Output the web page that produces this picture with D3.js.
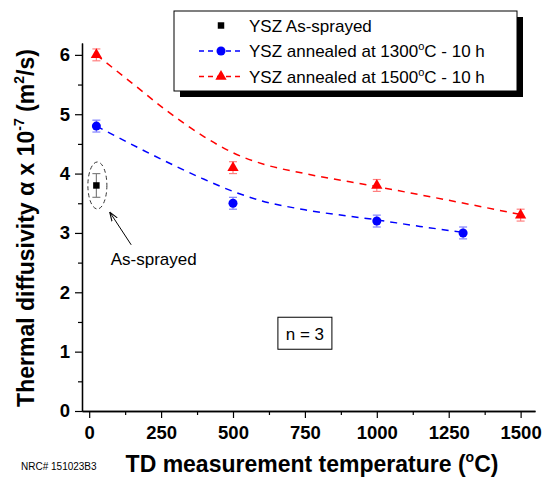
<!DOCTYPE html>
<html>
<head>
<meta charset="utf-8">
<script src="https://cdn.jsdelivr.net/npm/d3@7"></script>
<style>
  body { margin: 0; background: #fff; }
  text { font-family: "Liberation Sans", Arial, sans-serif; }
</style>
</head>
<body>
<div id="vis"></div>
<script>
const TEMP_SPRAYED = [25];
const TD_SPRAYED = [3.8];
const ERR_SPRAYED = [0.2];

const TEMP_1300 = [25, 500, 1000, 1300];
const TD_1300 = [4.8, 3.5, 3.2, 3.0];
const ERR_1300 = [0.1, 0.1, 0.1, 0.1];

const TEMP_1500 = [25, 500, 1000, 1500];
const TD_1500 = [6.0, 4.1, 3.8, 3.3];
const ERR_1500 = [0.1, 0.1, 0.1, 0.1];

// dashed fit curves
const FIT_X_1300 = [25, 218, 392, 500, 600, 750, 1000, 1150, 1300];
const FIT_Y_1300 = [4.8, 4.32, 3.92, 3.7, 3.54, 3.39, 3.22, 3.11, 3.01];
const FIT_X_1500 = [25, 150, 264, 400, 500, 612, 750, 1000, 1250, 1500];
const FIT_Y_1500 = [6.0, 5.52, 5.08, 4.62, 4.35, 4.15, 4.0, 3.78, 3.55, 3.31];

// axis ticks
const X_TICKS = [0, 250, 500, 750, 1000, 1250, 1500];
const X_MINOR = [125, 375, 625, 875, 1125, 1375];
const Y_TICKS = [0, 1, 2, 3, 4, 5, 6];
const Y_MINOR = [0.5, 1.5, 2.5, 3.5, 4.5, 5.5];

// frame
const FRAME_WIDTH = 543;
const FRAME_HEIGHT = 479;
const MARGINS = {left: 82, right: 8, top: 43, bottom: 68};
const VIS_WIDTH = FRAME_WIDTH - MARGINS.left - MARGINS.right;
const VIS_HEIGHT = FRAME_HEIGHT - MARGINS.top - MARGINS.bottom;

const FRAME = d3.select("#vis")
                .append("svg")
                  .attr("width", FRAME_WIDTH)
                  .attr("height", FRAME_HEIGHT);

const X_SCALE = d3.scaleLinear().domain([-25, 1550]).range([0, VIS_WIDTH]);
const Y_SCALE = d3.scaleLinear().domain([0, 6.2]).range([VIS_HEIGHT, 0]);

const PLOT = FRAME.append("g")
                  .attr("transform", "translate(" + MARGINS.left + "," + MARGINS.top + ")");

// axes: major ticks with labels, minor ticks without
function styleAxis(g) {
  g.select(".domain").attr("stroke", "#000").attr("stroke-width", 1.3);
  g.selectAll(".tick line").attr("stroke", "#000").attr("stroke-width", 1.2);
  g.selectAll("text").attr("font-size", "18.5px").attr("font-weight", "bold")
    .attr("fill", "#000").attr("font-family", "Liberation Sans, Arial, sans-serif");
}

PLOT.append("g")
    .attr("transform", "translate(0," + VIS_HEIGHT + ")")
    .call(d3.axisBottom(X_SCALE).tickValues(X_MINOR).tickSize(4).tickFormat("").tickSizeOuter(0))
    .call(styleAxis);
PLOT.append("g")
    .attr("transform", "translate(0," + VIS_HEIGHT + ")")
    .call(d3.axisBottom(X_SCALE).tickValues(X_TICKS).tickSize(7).tickPadding(8)
            .tickFormat(d3.format("d")).tickSizeOuter(0))
    .call(styleAxis);

PLOT.append("g")
    .call(d3.axisLeft(Y_SCALE).tickValues(Y_MINOR).tickSize(4).tickFormat("").tickSizeOuter(0))
    .call(styleAxis);
PLOT.append("g")
    .call(d3.axisLeft(Y_SCALE).tickValues(Y_TICKS).tickSize(7).tickPadding(5)
            .tickFormat(d3.format("d")).tickSizeOuter(0))
    .call(styleAxis);

// fitted dashed curves
const line = d3.line()
               .x((d) => X_SCALE(d[0]))
               .y((d) => Y_SCALE(d[1]))
               .curve(d3.curveMonotoneX);

PLOT.append("path")
    .datum(FIT_X_1300.map((x, i) => [x, FIT_Y_1300[i]]))
    .attr("d", line)
    .attr("fill", "none")
    .attr("stroke", "#0000ff")
    .attr("stroke-width", 1.5)
    .attr("stroke-dasharray", "7,6");

PLOT.append("path")
    .datum(FIT_X_1500.map((x, i) => [x, FIT_Y_1500[i]]))
    .attr("d", line)
    .attr("fill", "none")
    .attr("stroke", "#ff0000")
    .attr("stroke-width", 1.5)
    .attr("stroke-dasharray", "7,6");

// error bars + markers
function drawSeries(xs, ys, errs, barColor, symbol, size, color) {
  const data = xs.map((x, i) => ({x: x, y: ys[i], e: errs[i]}));
  const g = PLOT.append("g");
  const bars = g.selectAll("g.err").data(data).enter().append("g").attr("class", "err")
                .attr("stroke", barColor).attr("stroke-width", 1.2);
  bars.append("line")
      .attr("x1", (d) => X_SCALE(d.x)).attr("x2", (d) => X_SCALE(d.x))
      .attr("y1", (d) => Y_SCALE(d.y - d.e)).attr("y2", (d) => Y_SCALE(d.y + d.e));
  bars.append("line")
      .attr("x1", (d) => X_SCALE(d.x) - 4).attr("x2", (d) => X_SCALE(d.x) + 4)
      .attr("y1", (d) => Y_SCALE(d.y - d.e)).attr("y2", (d) => Y_SCALE(d.y - d.e));
  bars.append("line")
      .attr("x1", (d) => X_SCALE(d.x) - 4).attr("x2", (d) => X_SCALE(d.x) + 4)
      .attr("y1", (d) => Y_SCALE(d.y + d.e)).attr("y2", (d) => Y_SCALE(d.y + d.e));
  g.selectAll("path.mark").data(data).enter().append("path").attr("class", "mark")
   .attr("d", d3.symbol().type(symbol).size(size))
   .attr("transform", (d) => "translate(" + X_SCALE(d.x) + "," + Y_SCALE(d.y) + ")")
   .attr("fill", color);
}

drawSeries(TEMP_SPRAYED, TD_SPRAYED, ERR_SPRAYED, "#808080", d3.symbolSquare, 42, "#000");
drawSeries(TEMP_1300, TD_1300, ERR_1300, "#8080ff", d3.symbolCircle, 64, "#0000ff");
drawSeries(TEMP_1500, TD_1500, ERR_1500, "#ff8080", d3.symbolTriangle, 55, "#ff0000");

// as-sprayed annotation
PLOT.append("ellipse")
    .attr("cx", X_SCALE(TEMP_SPRAYED[0]) + 1)
    .attr("cy", Y_SCALE(TD_SPRAYED[0]))
    .attr("rx", 9.5).attr("ry", 23.5)
    .attr("fill", "none").attr("stroke", "#333")
    .attr("stroke-width", 1).attr("stroke-dasharray", "4,3");

FRAME.append("defs").append("marker")
     .attr("id", "arrow").attr("viewBox", "0 0 10 10")
     .attr("refX", 9).attr("refY", 5)
     .attr("markerWidth", 9).attr("markerHeight", 9)
     .attr("orient", "auto")
     .append("path").attr("d", "M0,1.5 L10,5 L0,8.5").attr("fill", "none")
     .attr("stroke", "#000").attr("stroke-width", 1.2);

PLOT.append("line")
    .attr("x1", X_SCALE(146)).attr("y1", Y_SCALE(2.8))
    .attr("x2", X_SCALE(73)).attr("y2", Y_SCALE(3.34))
    .attr("stroke", "#000").attr("stroke-width", 1)
    .attr("marker-end", "url(#arrow)");

PLOT.append("text")
    .attr("x", X_SCALE(75)).attr("y", Y_SCALE(2.46))
    .attr("font-size", "17px").text("As-sprayed");

// n = 3 box
PLOT.append("rect")
    .attr("x", X_SCALE(750) - 27).attr("y", Y_SCALE(1.31) - 16)
    .attr("width", 54).attr("height", 32)
    .attr("fill", "#fff").attr("stroke", "#000").attr("stroke-width", 1);
PLOT.append("text")
    .attr("x", X_SCALE(750)).attr("y", Y_SCALE(1.19))
    .attr("text-anchor", "middle").attr("font-size", "17px").text("n = 3");

// legend with drop shadow
const LEG = FRAME.append("g").attr("transform", "translate(174,11)");
LEG.append("rect").attr("x", 6).attr("y", 6).attr("width", 343).attr("height", 80).attr("fill", "#000");
LEG.append("rect").attr("x", 0).attr("y", 0).attr("width", 343).attr("height", 80)
   .attr("fill", "#fff").attr("stroke", "#000").attr("stroke-width", 1);

const LEG_ROWS = [
  {label: "YSZ As-sprayed", sym: d3.symbolSquare, size: 42, color: "#000", dashed: false},
  {label: "YSZ annealed at 1300", sym: d3.symbolCircle, size: 64, color: "#0000ff", dashed: true},
  {label: "YSZ annealed at 1500", sym: d3.symbolTriangle, size: 55, color: "#ff0000", dashed: true}
];

LEG_ROWS.forEach((r, i) => {
  const ry = 14.5 + i * 25.5;
  if (r.dashed) {
    LEG.append("line").attr("x1", 25).attr("x2", 68).attr("y1", ry).attr("y2", ry)
       .attr("stroke", r.color).attr("stroke-width", 1.5).attr("stroke-dasharray", "5,4");
  }
  LEG.append("path").attr("d", d3.symbol().type(r.sym).size(r.size))
     .attr("transform", "translate(47," + ry + ")").attr("fill", r.color);
  const t = LEG.append("text").attr("x", 75).attr("y", ry + 6).attr("font-size", "17px").text(r.label);
  if (r.dashed) {
    t.append("tspan").attr("font-size", "11px").attr("dy", -7).text("o");
    t.append("tspan").attr("dy", 7).text("C - 10 h");
  }
});

// axis titles
const XT = FRAME.append("text")
     .attr("x", 312).attr("y", 472)
     .attr("text-anchor", "middle").attr("font-size", "23px").attr("font-weight", "bold")
     .text("TD measurement temperature (");
XT.append("tspan").attr("font-size", "14px").attr("dy", -10).text("o");
XT.append("tspan").attr("dy", 10).text("C)");

const YT = FRAME.append("text")
     .attr("transform", "translate(34,228) rotate(-90)")
     .attr("text-anchor", "middle").attr("font-size", "23px").attr("font-weight", "bold")
     .text("Thermal diffusivity \u03b1 x 10");
YT.append("tspan").attr("font-size", "14px").attr("dy", -10).text("-7");
YT.append("tspan").attr("dy", 10).text(" (m");
YT.append("tspan").attr("font-size", "14px").attr("dy", -10).text("2");
YT.append("tspan").attr("dy", 10).text("/s)");

FRAME.append("text")
     .attr("x", 21).attr("y", 470)
     .attr("font-size", "10px").text("NRC# 151023B3");
</script>
</body>
</html>
